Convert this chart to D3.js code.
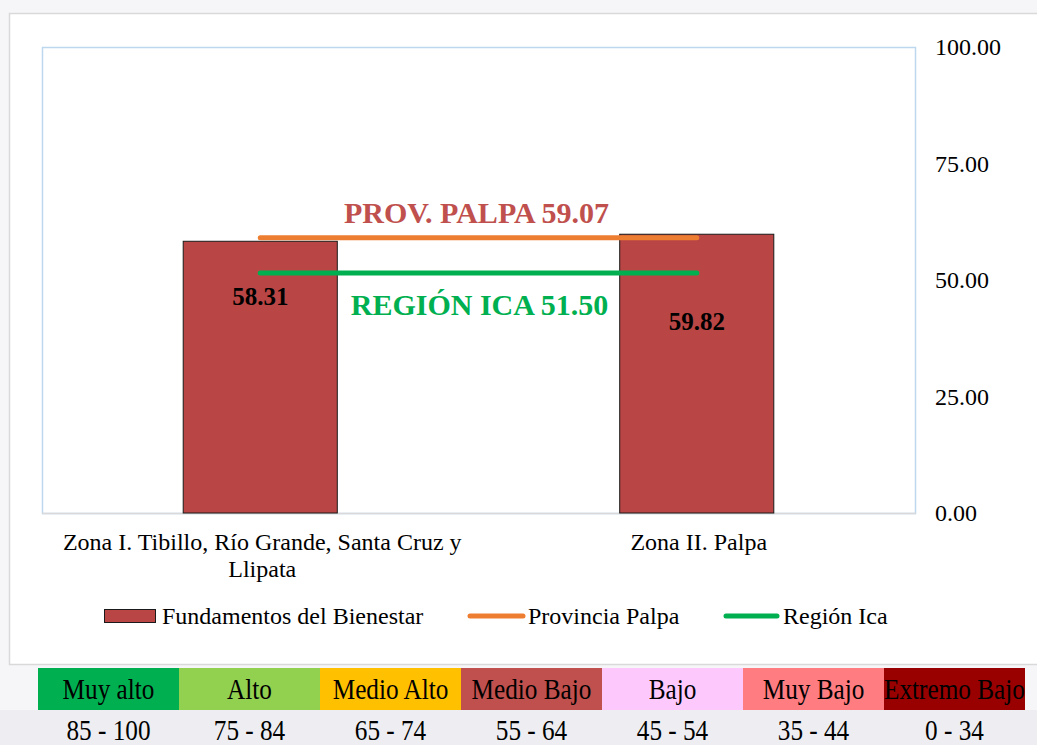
<!DOCTYPE html>
<html>
<head>
<meta charset="utf-8">
<script src="https://cdn.jsdelivr.net/npm/d3@7"></script>
<style>
  body { margin: 0; background: #f4f4f6; }
  svg { display: block; font-family: "Liberation Serif", "Times New Roman", serif; }
</style>
</head>
<body>
<svg id="chart" width="1037" height="745"></svg>
<script>
// chart values
var zonas = ["Zona I. Tibillo, Río Grande, Santa Cruz y Llipata", "Zona II. Palpa"];
var fundamentos = [58.31, 59.82];
var provinciaPalpa = 59.07;
var regionIca = 51.50;
var yTicks = [0, 25, 50, 75, 100];

// escala de niveles
var niveles = ["Muy alto", "Alto", "Medio Alto", "Medio Bajo", "Bajo", "Muy Bajo", "Extremo Bajo"];
var rangos = ["85 - 100", "75 - 84", "65 - 74", "55 - 64", "45 - 54", "35 - 44", "0 - 34"];
var nivelColores = ["#00b050", "#92d050", "#ffc000", "#c0504d", "#fdc9fd", "#ff7c80", "#990000"];

var svg = d3.select("#chart");

// faint background
svg.append("rect").attr("x", 0).attr("y", 0).attr("width", 1037).attr("height", 745).attr("fill", "#f6f6f8");
svg.append("rect").attr("x", 0).attr("y", 710).attr("width", 1037).attr("height", 35).attr("fill", "#eeeef2");

// chart frame
svg.append("rect")
    .attr("x", 9.5).attr("y", 13.5)
    .attr("width", 1040).attr("height", 651)
    .attr("fill", "#fff")
    .attr("stroke", "#d9d9d9")
    .attr("stroke-width", 1.5);

var plot = { left: 42, top: 47, right: 915, bottom: 513 };

var x = d3.scaleBand()
    .domain(zonas)
    .range([plot.left, plot.right])
    .padding(0);

var barW = x.bandwidth() * 0.353;

var y = d3.scaleLinear()
    .domain([0, 100])
    .range([plot.bottom, plot.top]);

// plot area
svg.append("rect")
    .attr("x", plot.left + 0.5).attr("y", plot.top + 0.5)
    .attr("width", plot.right - plot.left).attr("height", plot.bottom - plot.top)
    .attr("fill", "#fff")
    .attr("stroke", "#bdd7ee")
    .attr("stroke-width", 1.5);

svg.append("line")
    .attr("x1", plot.left).attr("x2", plot.right + 1)
    .attr("y1", plot.bottom + 0.5).attr("y2", plot.bottom + 0.5)
    .attr("stroke", "#d9d9d9").attr("stroke-width", 1.5);

// bars
svg.selectAll(".bar")
    .data(fundamentos)
    .enter().append("rect")
    .attr("class", "bar")
    .attr("x", function(d, i) { return x(zonas[i]) + x.bandwidth() / 2 - barW / 2; })
    .attr("y", function(d) { return y(d); })
    .attr("width", barW)
    .attr("height", function(d) { return y(0) - y(d); })
    .attr("fill", "#b94644")
    .attr("stroke", "#1a1a1a")
    .attr("stroke-width", 1);

// reference lines
var x0 = x(zonas[0]) + x.bandwidth() / 2;
var x1 = x(zonas[1]) + x.bandwidth() / 2;

svg.append("line")
    .attr("x1", x0).attr("x2", x1)
    .attr("y1", y(provinciaPalpa)).attr("y2", y(provinciaPalpa))
    .attr("stroke", "#ed7d31").attr("stroke-width", 5)
    .attr("stroke-linecap", "round");

svg.append("line")
    .attr("x1", x0).attr("x2", x1)
    .attr("y1", y(regionIca)).attr("y2", y(regionIca))
    .attr("stroke", "#00b050").attr("stroke-width", 5)
    .attr("stroke-linecap", "round");

svg.append("text")
    .attr("x", (x0 + x1) / 2 - 2).attr("y", y(provinciaPalpa) - 15)
    .attr("text-anchor", "middle")
    .attr("font-size", 30).attr("font-weight", "bold")
    .attr("fill", "#c0504d")
    .text("PROV. PALPA " + provinciaPalpa.toFixed(2));

svg.append("text")
    .attr("x", (x0 + x1) / 2 + 1).attr("y", y(regionIca) + 42)
    .attr("text-anchor", "middle")
    .attr("font-size", 30).attr("font-weight", "bold")
    .attr("fill", "#00b050")
    .text("REGIÓN ICA " + regionIca.toFixed(2));

// bar labels (second one sits lower in the original)
var labelDrop = [64, 96];
svg.selectAll(".val")
    .data(fundamentos)
    .enter().append("text")
    .attr("class", "val")
    .attr("x", function(d, i) { return x(zonas[i]) + x.bandwidth() / 2; })
    .attr("y", function(d, i) { return y(d) + labelDrop[i]; })
    .attr("text-anchor", "middle")
    .attr("font-size", 25).attr("font-weight", "bold")
    .attr("fill", "#000")
    .text(function(d) { return d.toFixed(2); });

// y axis on the right
var yAxis = svg.append("g")
    .attr("transform", "translate(" + plot.right + ",0)")
    .call(d3.axisRight(y).tickValues(yTicks).tickSize(0).tickPadding(20)
        .tickFormat(function(d) { return d.toFixed(2); }));
yAxis.select(".domain").remove();
yAxis.selectAll("text")
    .attr("font-family", "Liberation Serif, Times New Roman, serif")
    .attr("font-size", 24)
    .attr("fill", "#000")
    .attr("dy", "0.32em");

// category labels, wrapped like Excel
var catLines = [
    ["Zona I. Tibillo, Río Grande, Santa Cruz y", "Llipata"],
    ["Zona II. Palpa"]
];
zonas.forEach(function(z, i) {
    var t = svg.append("text")
        .attr("x", x(z) + x.bandwidth() / 2 + 2)
        .attr("y", 550)
        .attr("text-anchor", "middle")
        .attr("font-size", 24)
        .attr("fill", "#000");
    catLines[i].forEach(function(l, j) {
        t.append("tspan")
            .attr("x", x(z) + x.bandwidth() / 2 + 2)
            .attr("dy", j === 0 ? 0 : 27)
            .text(l);
    });
});

// legend
var lg = svg.append("g").attr("font-size", 24).attr("fill", "#000");
lg.append("rect").attr("x", 104.5).attr("y", 609.5).attr("width", 51).attr("height", 13)
    .attr("fill", "#b94644").attr("stroke", "#1a1a1a").attr("stroke-width", 1);
lg.append("text").attr("x", 162).attr("y", 624).text("Fundamentos del Bienestar");
lg.append("line").attr("x1", 470).attr("x2", 523).attr("y1", 616).attr("y2", 616)
    .attr("stroke", "#ed7d31").attr("stroke-width", 5).attr("stroke-linecap", "round");
lg.append("text").attr("x", 528).attr("y", 624).text("Provincia Palpa");
lg.append("line").attr("x1", 726).attr("x2", 777).attr("y1", 616).attr("y2", 616)
    .attr("stroke", "#00b050").attr("stroke-width", 5).attr("stroke-linecap", "round");
lg.append("text").attr("x", 783).attr("y", 624).text("Región Ica");

// level scale under the chart
var lvl = d3.scaleBand().domain(niveles).range([38, 1025]);

var cells = svg.selectAll(".nivel")
    .data(niveles)
    .enter().append("g")
    .attr("class", "nivel");

cells.append("rect")
    .attr("x", function(d) { return lvl(d); })
    .attr("y", 668)
    .attr("width", lvl.bandwidth())
    .attr("height", 42)
    .attr("fill", function(d, i) { return nivelColores[i]; });

cells.append("text")
    .attr("transform", function(d) { return "translate(" + (lvl(d) + lvl.bandwidth() / 2) + ",699) scale(0.87,1)"; })
    .attr("text-anchor", "middle")
    .attr("font-size", 29)
    .attr("fill", "#000")
    .text(function(d) { return d; });

cells.append("text")
    .attr("transform", function(d) { return "translate(" + (lvl(d) + lvl.bandwidth() / 2) + ",740) scale(0.87,1)"; })
    .attr("text-anchor", "middle")
    .attr("font-size", 29)
    .attr("fill", "#000")
    .text(function(d, i) { return rangos[i]; });
</script>
</body>
</html>
